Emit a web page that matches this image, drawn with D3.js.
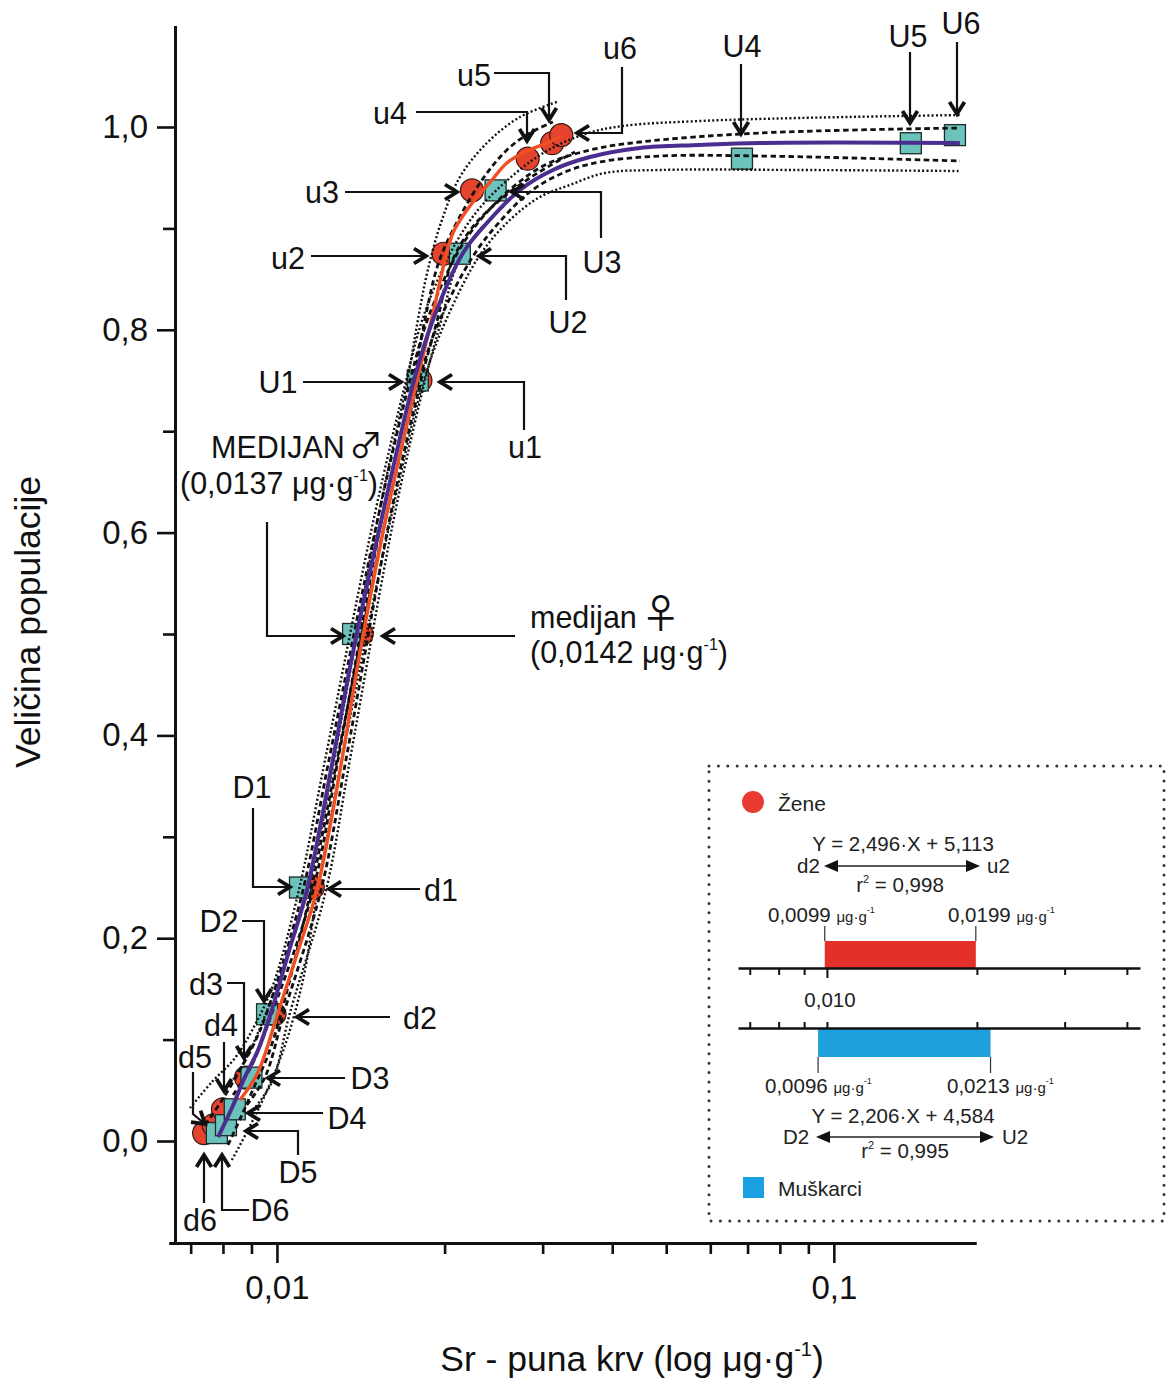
<!DOCTYPE html>
<html><head><meta charset="utf-8">
<script src="https://cdn.jsdelivr.net/npm/d3@7"></script>
<style>
body{margin:0;background:#fff;}
svg{display:block;font-family:"Liberation Sans",Arial,Helvetica,sans-serif;}
</style></head><body>
<svg id="chart" width="1168" height="1381"></svg>
<script>
// ---------------- DATA ----------------
const letterLevels = ["6","5","4","3","2","1","M","1","2","3","4","5","6"];
const cumulativeFractions = [0.0078,0.0156,0.03125,0.0625,0.125,0.25,0.5,0.75,0.875,0.9375,0.96875,0.984,0.992];
const zeneSr     = [0.0074,0.0077,0.0080,0.0088,0.0099,0.0116,0.0142,0.0181,0.0199,0.0224,0.0282,0.0312,0.0324];
const muskarciSr = [0.0078,0.0081,0.0084,0.0090,0.0096,0.0110,0.0137,0.0179,0.0213,0.0247,0.0684,0.1375,0.165];

const muskarciFit = [[0.00784,0.0039],[0.00830,0.0325],[0.00876,0.0631],[0.00925,0.0897],[0.00975,0.1262],[0.01051,0.1874],[0.01132,0.2475],[0.01260,0.3757],[0.01364,0.4773],[0.01550,0.6193],[0.01769,0.7535],[0.01906,0.8097],[0.02158,0.8757],[0.02382,0.9053],[0.02732,0.9379],[0.03130,0.9576],[0.03648,0.9704],[0.04485,0.9793],[0.05745,0.9822],[0.07364,0.9842],[0.1684,0.9842]];
const zeneFit = [[0.00858,0.0404],[0.00925,0.0680],[0.01004,0.1262],[0.01091,0.1874],[0.01180,0.2475],[0.01308,0.3757],[0.01409,0.4813],[0.01576,0.6193],[0.01791,0.7535],[0.01898,0.8116],[0.02003,0.8688],[0.02070,0.8955],[0.02194,0.9181],[0.02296,0.9320],[0.02432,0.9477],[0.02587,0.9645],[0.02811,0.9763],[0.03053,0.9842],[0.03248,0.9911]];

const muskarciUpperDotted = [[0.00698,0.0325],[0.00764,0.0582],[0.00841,0.0819],[0.00913,0.1144],[0.00984,0.1538],[0.01095,0.2475],[0.01220,0.3757],[0.01500,0.6193],[0.01712,0.7535],[0.01836,0.8146],[0.02062,0.8787],[0.02296,0.9181],[0.02620,0.9497],[0.03028,0.9753],[0.03573,0.9931],[0.04180,1.0010],[0.05745,1.0059],[0.08690,1.0089],[0.1684,1.0118]];
const muskarciUpperDashed = [[0.00743,0.0158],[0.00797,0.0404],[0.00858,0.0700],[0.00925,0.1045],[0.00996,0.1538],[0.01114,0.2475],[0.01240,0.3757],[0.01525,0.6193],[0.01740,0.7535],[0.01874,0.8136],[0.02114,0.8767],[0.02334,0.9103],[0.02641,0.9398],[0.03028,0.9625],[0.03648,0.9773],[0.04485,0.9852],[0.07364,0.9941],[0.1684,0.9990]];
const muskarciLowerDashed = [[0.00817,-0.0039],[0.00865,0.0256],[0.00913,0.0552],[0.00964,0.0848],[0.01021,0.1292],[0.01151,0.2475],[0.01282,0.3757],[0.01576,0.6193],[0.01806,0.7535],[0.01961,0.8097],[0.02239,0.8708],[0.02483,0.9034],[0.02846,0.9359],[0.03289,0.9556],[0.03801,0.9655],[0.04871,0.9714],[0.07364,0.9714],[0.1684,0.9665]];
const muskarciLowerDotted = [[0.00830,-0.0187],[0.00887,0.0108],[0.00952,0.0454],[0.01012,0.0799],[0.01068,0.1193],[0.01123,0.1686],[0.01175,0.2377],[0.01308,0.3757],[0.01609,0.6193],[0.01844,0.7535],[0.02020,0.8116],[0.02315,0.8738],[0.02620,0.9083],[0.02966,0.9310],[0.03357,0.9428],[0.03880,0.9546],[0.04871,0.9576],[0.08690,0.9576],[0.1684,0.9566]];

const zeneUpperDotted = [[0.00810,0.0503],[0.00873,0.0779],[0.00956,0.1262],[0.01137,0.2475],[0.01266,0.3757],[0.01525,0.6193],[0.01719,0.7535],[0.01791,0.8097],[0.01866,0.8590],[0.01978,0.9083],[0.02131,0.9507],[0.02382,0.9842],[0.02732,1.0099],[0.03182,1.0247]];
const zeneUpperDashed = [[0.00834,0.0454],[0.00898,0.0730],[0.00980,0.1262],[0.01161,0.2475],[0.01287,0.3757],[0.01550,0.6193],[0.01762,0.7535],[0.01851,0.8146],[0.01945,0.8639],[0.02070,0.8984],[0.02315,0.9448],[0.02587,0.9773],[0.02846,0.9941],[0.03130,1.0049]];
const zeneLowerDashed = [[0.00883,0.0355],[0.00952,0.0631],[0.01029,0.1262],[0.01200,0.2475],[0.01330,0.3757],[0.01602,0.6193],[0.01821,0.7535],[0.01945,0.8116],[0.02062,0.8669],[0.02239,0.9004],[0.02514,0.9280],[0.02846,0.9497],[0.03221,0.9675],[0.03428,0.9753]];
const zeneLowerDotted = [[0.00906,0.0306],[0.00980,0.0582],[0.01055,0.1262],[0.01225,0.2475],[0.01352,0.3757],[0.01629,0.6193],[0.01851,0.7535],[0.01978,0.8116],[0.02105,0.8639],[0.02296,0.8964],[0.02566,0.9231]];

const yMajorTicks = [0,0.2,0.4,0.6,0.8,1.0];
const yMinorTicks = [0.1,0.3,0.5,0.7,0.9];
const xMajorTicks = [0.01,0.1];
const xMinorTicks = [0.007,0.008,0.009,0.02,0.03,0.04,0.05,0.06,0.07,0.08,0.09];

const zeneInterval = [0.0099,0.0199];
const muskarciInterval = [0.0096,0.0213];
const legendTicks = [0.007,0.008,0.009,0.01,0.02,0.03,0.04];

// ---------------- SETUP ----------------
const svg = d3.select("#chart");
const x = d3.scaleLog().domain([0.0064,0.18]).range([169,976]);
const y = d3.scaleLinear().domain([-0.1,1.1]).range([1242.4,25.6]);
const comma = v => String(v).replace(".", ",");

const FONT = '"Liberation Sans",Arial,Helvetica,sans-serif';
const SYMFONT = '"Noto Sans CJK JP","Noto Sans CJK SC","DejaVu Sans",sans-serif';

function styleAxis(g, fs){
  g.attr("font-family", FONT).attr("font-size", fs);
  g.select(".domain").attr("stroke","#111").attr("stroke-width",3);
  g.selectAll(".tick line").attr("stroke","#111").attr("stroke-width",2.6);
  g.selectAll(".tick text").attr("fill","#111");
}
const xAx = svg.append("g").attr("transform","translate(0,1243)")
  .call(d3.axisBottom(x).tickValues(xMajorTicks).tickSize(20).tickSizeOuter(0).tickPadding(13).tickFormat(d=>comma(d)));
styleAxis(xAx, 33);
const xAxMin = svg.append("g").attr("transform","translate(0,1243)")
  .call(d3.axisBottom(x).tickValues(xMinorTicks).tickSize(11).tickSizeOuter(0).tickFormat(""));
styleAxis(xAxMin, 33);

const yAx = svg.append("g").attr("transform","translate(175,0)")
  .call(d3.axisLeft(y).tickValues(yMajorTicks).tickSize(18).tickSizeOuter(0).tickPadding(9).tickFormat(d=>comma(d3.format(".1f")(d))));
styleAxis(yAx, 33);
const yAxMin = svg.append("g").attr("transform","translate(175,0)")
  .call(d3.axisLeft(y).tickValues(yMinorTicks).tickSize(12).tickSizeOuter(0).tickFormat(""));
styleAxis(yAxMin, 33);

// axis titles
svg.append("text").attr("transform","translate(40,622) rotate(-90)")
  .attr("text-anchor","middle").attr("font-size",35.5).attr("fill","#111").text("Veličina populacije");
const xt = svg.append("text").attr("x",632).attr("y",1371).attr("text-anchor","middle").attr("font-size",35.5).attr("fill","#111");
xt.append("tspan").text("Sr - puna krv (log μg·g");
xt.append("tspan").attr("font-size",20).attr("dy",-15).text("-1");
xt.append("tspan").attr("dy",15).text(")");

// ---------------- MARKERS ----------------
const zenePts = zeneSr.map((v,i)=>[v,cumulativeFractions[i]]);
const muskPts = muskarciSr.map((v,i)=>[v,cumulativeFractions[i]]);

svg.append("g").selectAll("circle").data(zenePts).join("circle")
  .attr("cx",d=>x(d[0])).attr("cy",d=>y(d[1])).attr("r",11.5)
  .attr("fill","#E5432D").attr("stroke","#3a1a14").attr("stroke-width",1.2);
svg.append("g").selectAll("rect").data(muskPts).join("rect")
  .attr("x",d=>x(d[0])-10.5).attr("y",d=>y(d[1])-10.5).attr("width",21).attr("height",21)
  .attr("fill","#6CC3BC").attr("stroke","#1d2b2a").attr("stroke-width",1.3);

// ---------------- CURVES ----------------
const line = d3.line().x(d=>x(d[0])).y(d=>y(d[1])).curve(d3.curveCatmullRom.alpha(0.5));
const bands = [
  [zeneUpperDotted,"dot"],[zeneLowerDotted,"dot"],[zeneUpperDashed,"dash"],[zeneLowerDashed,"dash"],
  [muskarciUpperDotted,"dot"],[muskarciLowerDotted,"dot"],[muskarciUpperDashed,"dash"],[muskarciLowerDashed,"dash"]
];
bands.forEach(([data,kind])=>{
  svg.append("path").attr("d",line(data)).attr("fill","none").attr("stroke","#111")
    .attr("stroke-width", kind==="dot"?2.4:2.8)
    .attr("stroke-dasharray", kind==="dot"?"2,2.3":"5.5,3.5");
});
svg.append("path").attr("d",line(zeneFit)).attr("fill","none").attr("stroke","#F04E23").attr("stroke-width",3.4);
svg.append("path").attr("d",line(muskarciFit)).attr("fill","none").attr("stroke","#4B2D8F").attr("stroke-width",4);

// ---------------- ANNOTATIONS ----------------
const annotations = [
  {t:"u4", tx:390, ty:124, path:[[416,112],[527,112],[527,141]]},
  {t:"u5", tx:474, ty:86,  path:[[494,73],[549,73],[549,120]]},
  {t:"u6", tx:620, ty:59,  path:[[622,67],[622,133],[577,133]]},
  {t:"U4", tx:742, ty:57,  path:[[741,64],[741,134]]},
  {t:"U5", tx:908, ty:47,  path:[[910,52],[910,123]]},
  {t:"U6", tx:961, ty:34,  path:[[957,42],[957,114]]},
  {t:"u3", tx:322, ty:203, path:[[345,192],[457,192]]},
  {t:"U3", tx:602, ty:273, path:[[601,238],[601,192],[512,192]]},
  {t:"u2", tx:288, ty:269, path:[[311,256],[426,256]]},
  {t:"U2", tx:568, ty:333, path:[[566,300],[566,256],[479,256]]},
  {t:"U1", tx:278, ty:393, path:[[303,382],[401,382]]},
  {t:"u1", tx:525, ty:458, path:[[524,430],[524,382],[440,382]]},
  {t:null, path:[[267,522],[267,636],[343,636]]},
  {t:null, path:[[515,636],[383,636]]},
  {t:"D1", tx:252, ty:798, path:[[253,808],[253,887],[290,887]]},
  {t:"d1", tx:441, ty:901, path:[[420,889],[329,889]]},
  {t:"D2", tx:219, ty:932, path:[[242,921],[264,921],[264,1001]]},
  {t:"d2", tx:420, ty:1029,path:[[390,1017],[297,1017]]},
  {t:"d3", tx:206, ty:995, path:[[227,983],[244,983],[244,1058]]},
  {t:"d4", tx:221, ty:1036,path:[[224,1042],[224,1091]]},
  {t:"d5", tx:195, ty:1068,path:[[193,1072],[193,1114],[205,1124]]},
  {t:"d6", tx:200, ty:1231,path:[[204,1203],[204,1155]]},
  {t:"D6", tx:270, ty:1221,path:[[249,1210],[222,1210],[222,1155]]},
  {t:"D3", tx:370, ty:1089,path:[[345,1078],[268,1078]]},
  {t:"D4", tx:347, ty:1129,path:[[323,1113],[248,1113]]},
  {t:"D5", tx:298, ty:1183,path:[[298,1155],[298,1131],[246,1131]]}
];
const ann = svg.append("g");
annotations.forEach(a=>{
  ann.append("path").attr("d","M"+a.path.map(p=>p.join(",")).join("L"))
    .attr("fill","none").attr("stroke","#111").attr("stroke-width",2.2);
  const p1=a.path[a.path.length-1], p0=a.path[a.path.length-2];
  const ang=Math.atan2(p1[1]-p0[1],p1[0]-p0[0])*180/Math.PI;
  ann.append("path").attr("d","M-12,-7.5L0,0L-12,7.5")
    .attr("transform",`translate(${p1[0]},${p1[1]}) rotate(${ang})`)
    .attr("fill","none").attr("stroke","#111").attr("stroke-width",3.8).attr("stroke-linejoin","miter");
  if(a.t) ann.append("text").attr("x",a.tx).attr("y",a.ty).attr("text-anchor","middle")
    .attr("font-size",30.5).attr("fill","#111").text(a.t);
});
// median labels
function medLabel(x0,y1,y2,title,sym,symSize,val,x2){
  const t1=ann.append("text").attr("x",x0).attr("y",y1).attr("font-size",30.5).attr("fill","#111");
  t1.append("tspan").text(title);
  t1.append("tspan").attr("font-family",SYMFONT).attr("font-size",symSize).attr("dx",4).text(sym);
  const t=ann.append("text").attr("x",x2).attr("y",y2).attr("font-size",30.5).attr("fill","#111");
  t.append("tspan").text("("+val+" μg·g");
  t.append("tspan").attr("font-size",16).attr("dy",-13).text("-1");
  t.append("tspan").attr("dy",13).text(")");
}
medLabel(211,458,494,"MEDIJAN","♂",34,"0,0137",180);
medLabel(530,628,663,"medijan","♀",40,"0,0142",530);

// ---------------- LEGEND / INSET ----------------
const lg = svg.append("g");
lg.append("rect").attr("x",709).attr("y",766).attr("width",455).attr("height",455)
  .attr("fill","none").attr("stroke","#333").attr("stroke-width",3)
  .attr("stroke-dasharray","0,9.4").attr("stroke-linecap","round");
lg.append("circle").attr("cx",753).attr("cy",802).attr("r",11).attr("fill","#E63B2E");
lg.append("text").attr("x",778).attr("y",811).attr("font-size",21).attr("fill","#222").text("Žene");
lg.append("rect").attr("x",743).attr("y",1177).attr("width",21).attr("height",21).attr("fill","#1BA1E2");
lg.append("text").attr("x",778).attr("y",1196).attr("font-size",21).attr("fill","#222").text("Muškarci");

const ls = d3.scaleLog().domain([0.00663,0.0425]).range([738,1140]);
function lgText(x0,yb,str,anchor){return lg.append("text").attr("x",x0).attr("y",yb).attr("font-size",20.5).attr("fill","#222").attr("text-anchor",anchor||"start").text(str);}
function rsq(cx,yb,val){
  const t=lg.append("text").attr("x",cx).attr("y",yb).attr("font-size",20.5).attr("fill","#222").attr("text-anchor","middle");
  t.append("tspan").text("r");
  t.append("tspan").attr("font-size",11).attr("dy",-9).text("2");
  t.append("tspan").attr("dy",9).text(" = "+val);
}
function unitLabel(x0,yb,val){
  const t=lg.append("text").attr("x",x0).attr("y",yb).attr("font-size",20.5).attr("fill","#222");
  t.append("tspan").text(val+" ");
  t.append("tspan").attr("font-size",15).text("μg·g");
  t.append("tspan").attr("font-size",9).attr("dy",-9).text("-1");
}
function dblArrow(x1,x2,yy){
  lg.append("line").attr("x1",x1+10).attr("x2",x2-10).attr("y1",yy).attr("y2",yy).attr("stroke","#222").attr("stroke-width",1.3);
  lg.append("path").attr("d",`M${x1},${yy}L${x1+14},${yy-6}L${x1+14},${yy+6}Z`).attr("fill","#111");
  lg.append("path").attr("d",`M${x2},${yy}L${x2-14},${yy-6}L${x2-14},${yy+6}Z`).attr("fill","#111");
}
// female block
lgText(903,851,"Y = 2,496·X + 5,113","middle");
lgText(797,873,"d2"); lgText(987,873,"u2");
dblArrow(824,980,866);
rsq(900,892,"0,998");
unitLabel(768,922,"0,0099");
unitLabel(948,922,"0,0199");
zeneInterval.forEach(v=>lg.append("line").attr("x1",ls(v)).attr("x2",ls(v)).attr("y1",926).attr("y2",941).attr("stroke","#333").attr("stroke-width",1.2));
lg.append("rect").attr("x",ls(zeneInterval[0])).attr("y",941).attr("width",ls(zeneInterval[1])-ls(zeneInterval[0])).attr("height",27).attr("fill","#E3302B");
const la1 = lg.append("g").attr("transform","translate(0,968)")
  .call(d3.axisBottom(ls).tickValues(legendTicks).tickSize(7).tickSizeOuter(0).tickFormat(""));
la1.select(".domain").attr("stroke","#111").attr("stroke-width",2.4);
la1.selectAll(".tick line").attr("stroke","#111").attr("stroke-width",2).attr("y2",d=>d===0.01?10:7);
lgText(830,1007,"0,010","middle");
// male block
muskarciInterval.forEach(v=>lg.append("line").attr("x1",ls(v)).attr("x2",ls(v)).attr("y1",1057).attr("y2",1073).attr("stroke","#333").attr("stroke-width",1.2));
lg.append("rect").attr("x",ls(muskarciInterval[0])).attr("y",1028).attr("width",ls(muskarciInterval[1])-ls(muskarciInterval[0])).attr("height",29).attr("fill","#1EA0DC");
const la2 = lg.append("g").attr("transform","translate(0,1028)")
  .call(d3.axisTop(ls).tickValues(legendTicks).tickSize(6).tickSizeOuter(0).tickFormat(""));
la2.select(".domain").attr("stroke","#111").attr("stroke-width",2.4);
la2.selectAll(".tick line").attr("stroke","#111").attr("stroke-width",2);
unitLabel(765,1093,"0,0096");
unitLabel(947,1093,"0,0213");
lgText(903,1123,"Y = 2,206·X + 4,584","middle");
lgText(783,1144,"D2"); lgText(1002,1144,"U2");
dblArrow(816,994,1137);
rsq(905,1158,"0,995");
</script>
</body></html>
